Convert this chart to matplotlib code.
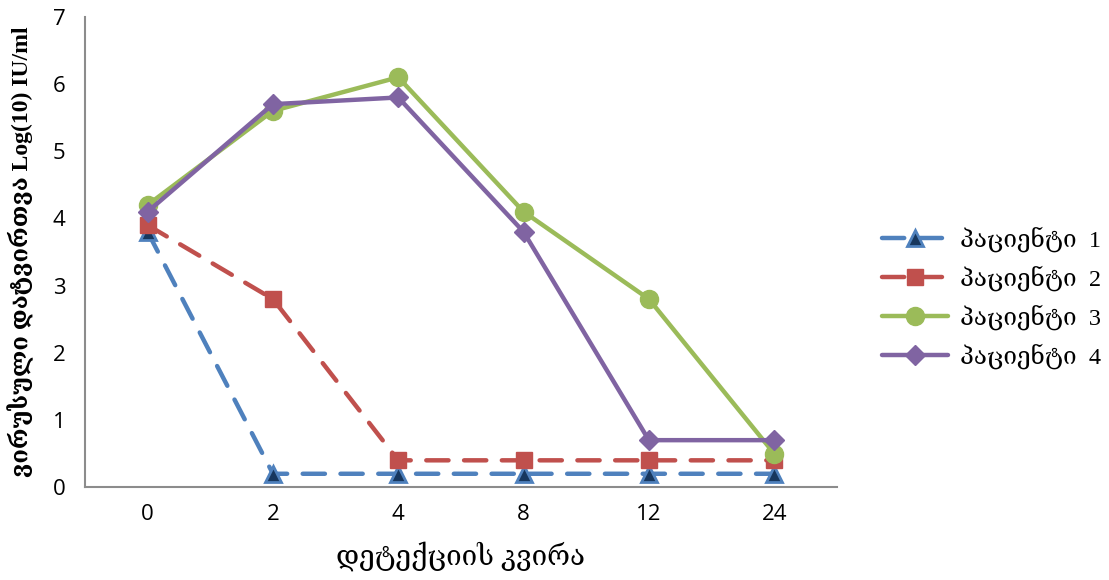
import numpy as np
import matplotlib
matplotlib.use("Agg")
import matplotlib.pyplot as plt

# weeks of detection (categorical)
weeks = ["0", "2", "4", "8", "12", "24"]

# viral load, log10 IU/ml
patient1 = [3.8, 0.2, 0.2, 0.2, 0.2, 0.2]
patient2 = [3.9, 2.8, 0.4, 0.4, 0.4, 0.4]
patient3 = [4.2, 5.6, 6.1, 4.1, 2.8, 0.5]
patient4 = [4.1, 5.7, 5.8, 3.8, 0.7, 0.7]

labels = ["პაციენტი  1", "პაციენტი  2", "პაციენტი  3", "პაციენტი  4"]

serif = ["Liberation Serif", "DejaVu Serif", "DejaVu Sans"]
sans = ["Open Sans", "DejaVu Sans"]

fig = plt.figure(figsize=(11.09, 5.8), dpi=100)
ax = fig.add_axes([0.0766, 0.160, 0.678, 0.811])

x = np.arange(len(weeks))

ax.plot(x, patient1, color="#4F81BD", lw=3.2, ls=(0, (5, 3.5)), dash_capstyle="round",
        marker="^", ms=11, mfc="#17375E", mec="#4F81BD", mew=2, label=labels[0], zorder=3)
ax.plot(x, patient2, color="#C0504D", lw=3.2, ls=(0, (5, 3.5)), dash_capstyle="round",
        marker="s", ms=12, mfc="#C0504D", mec="#C0504D", label=labels[1], zorder=3)
ax.plot(x, patient3, color="#9BBB59", lw=3.2, solid_capstyle="round",
        marker="o", ms=13, mfc="#9BBB59", mec="#9BBB59", label=labels[2], zorder=3)
ax.plot(x, patient4, color="#8064A2", lw=3.2, solid_capstyle="round",
        marker="D", ms=10, mfc="#8064A2", mec="#8064A2", label=labels[3], zorder=4)

ax.set_xlim(-0.5, len(weeks) - 0.5)
ax.set_ylim(0, 7)
ax.set_xticks(x)
ax.set_xticklabels(weeks, fontsize=16, family=sans)
ax.set_yticks(range(8))
ax.set_yticklabels([str(v) for v in range(8)], fontsize=16, family=sans)
ax.tick_params(length=0, pad=14)
ax.tick_params(axis="x", pad=12)

for s in ["top", "right"]:
    ax.spines[s].set_visible(False)
for s in ["left", "bottom"]:
    ax.spines[s].set_color("#8C8C8C")
    ax.spines[s].set_linewidth(1.5)

ax.set_xlabel("დეტექციის კვირა", fontsize=20, family=serif, labelpad=12)
ax.set_ylabel("ვირუსული დატვირთვა Log(10) IU/ml", fontsize=17, family=serif,
              fontweight="bold")
ax.yaxis.set_label_coords(-0.068, 0.5)

leg = fig.legend(loc="center left", bbox_to_anchor=(0.776, 0.487), frameon=False,
                 prop={"family": serif, "size": 17.5}, handlelength=2.7,
                 labelspacing=0.55, handletextpad=0.5)

fig.savefig("out.png", dpi=100)
